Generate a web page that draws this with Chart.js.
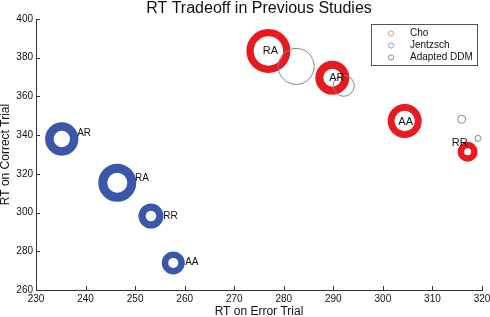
<!DOCTYPE html>
<html><head><meta charset="utf-8">
<script src="https://cdn.jsdelivr.net/npm/chart.js@4/dist/chart.umd.min.js"></script>
<style>html,body{margin:0;padding:0;background:#fff}</style>
</head><body>
<canvas id="c" width="490" height="317"></canvas>
<script>
// ---- data ----
const chartTitle = 'RT Tradeoff in Previous Studies';
const xTitle = 'RT on Error Trial';
const yTitle = 'RT on Correct Trial';
const xMin = 230, xMax = 320, xStep = 10;
const yMin = 260, yMax = 400, yStep = 20;
const seriesNames = ['Cho', 'Jentzsch', 'Adapted DDM'];

// Cho (red)
const choLabels = ['RA', 'AR', 'AA', 'RR'];
const choX = [276.9, 289.8, 304.4, 317.1];
const choY = [383.5, 369.7, 347.3, 331.4];
const choSize = [22, 17, 17, 10];          // outer radius
const choLabelX = [277.3, 290.7, 304.6, 315.5];
const choLabelY = [383.7, 369.4, 346.9, 335.9];

// Jentzsch (blue)
const jenLabels = ['AR', 'RA', 'RR', 'AA'];
const jenX = [235.2, 246.4, 253.2, 257.7];
const jenY = [338.0, 315.4, 298.2, 274.0];
const jenSize = [16.7, 19, 12.5, 11.5];
const jenLabelX = [238.3, 250.0, 255.7, 260.1];
const jenLabelY = [340.9, 317.9, 298.1, 274.4];

// Adapted DDM (gray)
const ddmX = [282.5, 292.1, 315.9, 319.2];
const ddmY = [375.5, 365.5, 348.2, 338.3];
const ddmSize = [18.5, 11, 4.5, 3.5];

// ---- styles ----
const FONT = '"Liberation Sans", Arial, Helvetica, sans-serif';
const RED = '#e8191f', BLUE = '#3b57a8', GRAY = '#858585';
const choBW = [7.3, 8, 6.8, 6.5];
const jenBW = [8.5, 9, 7.2, 6.5];
const ddmBW = 1;

function toBubbles(xs, ys, sizes, bw) {
  return xs.map((x, i) => ({x: x, y: ys[i], r: sizes[i] - (Array.isArray(bw) ? bw[i] : bw) / 2}));
}

const axisTicks = {
  id: 'axisTicks',
  afterDraw(chart) {
    const {ctx, chartArea: a, scales: {x, y}} = chart;
    ctx.save();
    ctx.strokeStyle = '#333'; ctx.lineWidth = 1;
    ctx.beginPath();
    x.ticks.forEach(t => { const px = Math.round(x.getPixelForValue(t.value)) + 0.5; ctx.moveTo(px, a.bottom); ctx.lineTo(px, a.bottom - 4); });
    y.ticks.forEach(t => { const py = Math.round(y.getPixelForValue(t.value)) + 0.5; ctx.moveTo(a.left, py); ctx.lineTo(a.left + 4, py); });
    ctx.stroke();
    ctx.restore();
  }
};

const pointLabels = {
  id: 'pointLabels',
  afterDatasetsDraw(chart) {
    const {ctx, scales: {x, y}} = chart;
    ctx.save();
    ctx.fillStyle = '#111';
    ctx.textBaseline = 'middle';
    ctx.font = '11px ' + FONT; ctx.textAlign = 'center';
    choLabels.forEach((s, i) => ctx.fillText(s, x.getPixelForValue(choLabelX[i]), y.getPixelForValue(choLabelY[i])));
    ctx.font = '10px ' + FONT; ctx.textAlign = 'left';
    jenLabels.forEach((s, i) => ctx.fillText(s, x.getPixelForValue(jenLabelX[i]), y.getPixelForValue(jenLabelY[i])));
    ctx.restore();
  }
};

const titleAndLegend = {
  id: 'titleAndLegend',
  afterDraw(chart) {
    const {ctx, chartArea: a} = chart;
    ctx.save();
    ctx.fillStyle = '#111';
    ctx.font = '16px ' + FONT; ctx.textAlign = 'center'; ctx.textBaseline = 'alphabetic';
    ctx.fillText(chartTitle, (a.left + a.right) / 2, 13);
    // legend box
    const bx = 371.5, by = 24.5, bw = 106, bh = 41;
    ctx.fillStyle = '#fff'; ctx.fillRect(bx, by, bw, bh);
    ctx.strokeStyle = '#555'; ctx.lineWidth = 1; ctx.strokeRect(bx, by, bw, bh);
    const marks = ['#f08a8a', '#8e9ed4', '#8a8a8a'];
    ctx.font = '10px ' + FONT; ctx.textAlign = 'left'; ctx.textBaseline = 'middle';
    seriesNames.forEach((n, i) => {
      const yy = 33.5 + i * 12;
      ctx.beginPath(); ctx.arc(391, yy, 2.6, 0, Math.PI * 2);
      ctx.strokeStyle = marks[i]; ctx.stroke();
      ctx.fillStyle = '#111'; ctx.fillText(n, 410, yy);
    });
    ctx.restore();
  }
};

new Chart(document.getElementById('c'), {
  type: 'bubble',
  data: {
    datasets: [
      {label: seriesNames[0], data: toBubbles(choX, choY, choSize, choBW), backgroundColor: 'rgba(0,0,0,0)', borderColor: RED, borderWidth: choBW, order: 2},
      {label: seriesNames[1], data: toBubbles(jenX, jenY, jenSize, jenBW), backgroundColor: 'rgba(0,0,0,0)', borderColor: BLUE, borderWidth: jenBW, order: 1},
      {label: seriesNames[2], data: toBubbles(ddmX, ddmY, ddmSize, ddmBW), backgroundColor: 'rgba(0,0,0,0)', borderColor: GRAY, borderWidth: ddmBW, order: 0}
    ]
  },
  options: {
    responsive: false,
    animation: false,
    events: [],
    clip: false,
    layout: {autoPadding: false, padding: {top: 19, right: 8, left: 0, bottom: 0}},
    plugins: {legend: {display: false}, tooltip: {enabled: false}, title: {display: false}},
    scales: {
      x: {
        type: 'linear', min: xMin, max: xMax,
        ticks: {stepSize: xStep, padding: 3, color: '#111', font: {family: FONT, size: 10}, maxRotation: 0},
        grid: {display: false, drawTicks: false},
        border: {display: true, color: '#333', width: 1},
        title: {display: true, text: xTitle, color: '#111', font: {family: FONT, size: 12, lineHeight: '10px'}, padding: {top: 0, bottom: 0}},
        afterFit(s) { s.height = 27; s.paddingLeft = 0; s.paddingRight = 0; }
      },
      y: {
        type: 'linear', min: yMin, max: yMax,
        ticks: {stepSize: yStep, padding: 3, color: '#111', font: {family: FONT, size: 10}},
        grid: {display: false, drawTicks: false},
        border: {display: true, color: '#333', width: 1},
        title: {display: true, text: yTitle, color: '#111', font: {family: FONT, size: 12, lineHeight: '10px'}, padding: {top: 1, bottom: 0}},
        afterFit(s) { s.width = 36; s.paddingTop = 0; s.paddingBottom = 0; }
      }
    }
  },
  plugins: [axisTicks, pointLabels, titleAndLegend]
});
</script>
</body></html>
